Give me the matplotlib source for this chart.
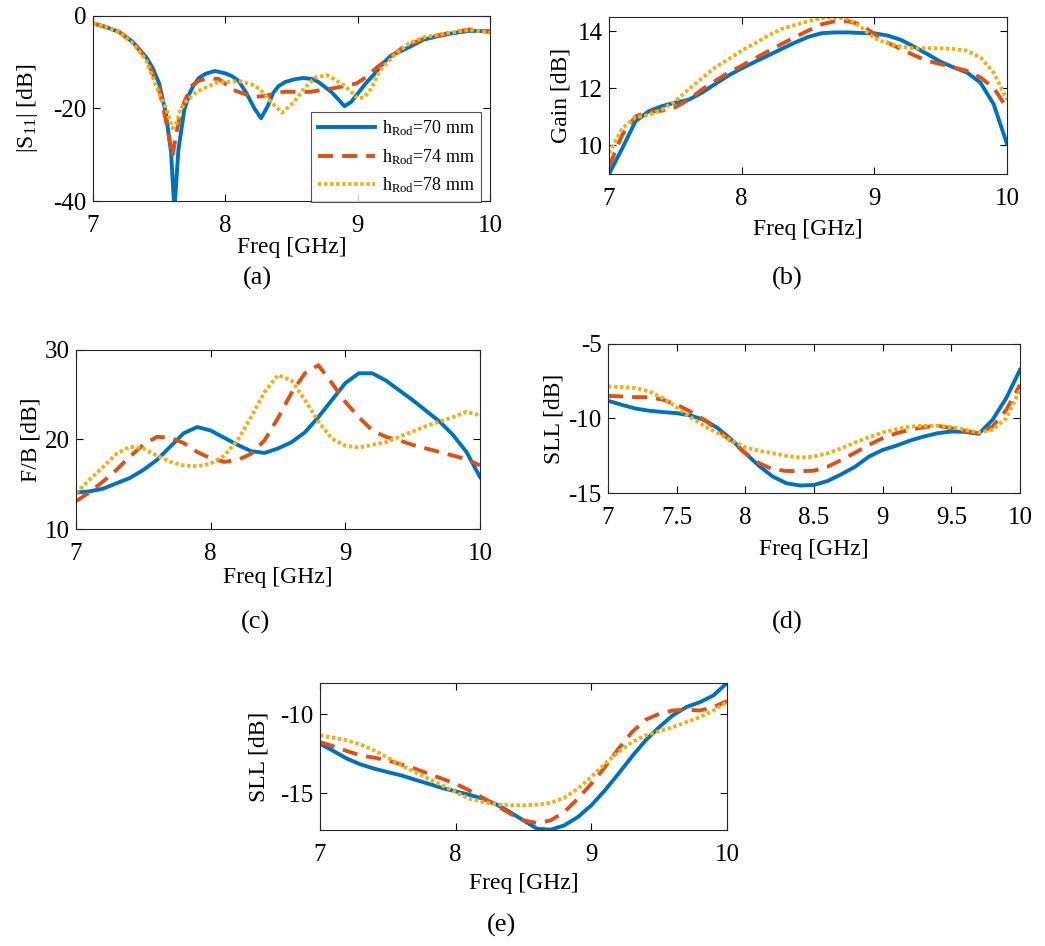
import numpy as np
import matplotlib
matplotlib.use('Agg')
import matplotlib.pyplot as plt

plt.rcParams['font.family'] = 'Liberation Serif'
plt.rcParams['mathtext.fontset'] = 'custom'
plt.rcParams['mathtext.rm'] = 'Liberation Serif'
plt.rcParams['mathtext.it'] = 'Liberation Serif:italic'
plt.rcParams['axes.unicode_minus'] = False

# Colours (MATLAB default order) and labels
colors = ['#0072BD', '#D95319', '#EDB120']
labels = ['h$_{\\mathrm{Rod}}$=70 mm', 'h$_{\\mathrm{Rod}}$=74 mm', 'h$_{\\mathrm{Rod}}$=78 mm']
styles = ['-', (0, (3.9, 2.3)), (0, (0.9, 0.65))]

# (a) |S11| - separate frequency points per curve (sharp dips)
f_s11_70 = [7.0, 7.1, 7.2, 7.3, 7.4, 7.45, 7.5, 7.55, 7.59, 7.615, 7.645, 7.69, 7.73, 7.76, 7.8,
            7.85, 7.92, 8.0, 8.05, 8.1, 8.16, 8.22, 8.27, 8.32, 8.36, 8.4, 8.45, 8.52, 8.59, 8.65,
            8.7, 8.8, 8.85, 8.9, 8.95, 9.0, 9.06, 9.12, 9.2, 9.25, 9.37, 9.5, 9.6, 9.7, 9.85, 10.0]
s11_70 = [-1.6, -2.4, -3.5, -5.6, -8.8, -11.2, -14.6, -21.0, -29.5, -42.0, -29.0, -20.3, -16.7, -15.0, -13.4,
          -12.5, -11.9, -12.4, -13.0, -14.0, -16.7, -20.0, -22.1, -19.5, -16.7, -15.2, -14.3, -13.7, -13.4, -13.6,
          -14.2, -16.4, -17.9, -19.5, -18.6, -16.8, -14.6, -12.75, -10.0, -8.6, -7.0, -5.1, -4.4, -3.8, -3.2, -3.3]
f_s11_74 = [7.0, 7.1, 7.2, 7.3, 7.4, 7.5, 7.57, 7.6, 7.63, 7.66, 7.695, 7.75, 7.8, 7.86, 7.95,
            8.06, 8.21, 8.3, 8.44, 8.64, 8.84, 8.99, 9.07, 9.15, 9.22, 9.34, 9.5, 9.7, 9.85, 10.0]
s11_74 = [-1.6, -2.4, -3.5, -5.7, -9.0, -15.7, -25.3, -30.4, -25.3, -21.0, -18.2, -15.0, -14.0, -13.5, -13.6,
          -16.0, -17.5, -17.3, -16.4, -16.4, -15.5, -14.6, -13.1, -11.0, -9.5, -6.8, -4.9, -3.6, -2.9, -3.45]
f_s11_78 = [7.0, 7.1, 7.2, 7.3, 7.4, 7.5, 7.557, 7.6, 7.63, 7.66, 7.7, 7.78, 7.935, 8.11,
            8.2, 8.26, 8.36, 8.43, 8.52, 8.6, 8.68, 8.77, 8.9, 9.0, 9.05, 9.1, 9.17, 9.29,
            9.39, 9.5, 9.7, 9.85, 10.0]
s11_78 = [-1.6, -2.4, -3.6, -5.9, -9.5, -16.8, -20.3, -24.3, -23.2, -20.3, -18.6, -16.4, -14.4, -14.1,
          -14.8, -15.8, -19.0, -20.9, -18.6, -15.5, -13.3, -12.8, -15.0, -17.8, -17.6, -15.8, -11.7, -8.1,
          -5.9, -4.6, -3.6, -3.0, -3.6]

# (b)-(e) share a 0.1 GHz grid
freq = np.round(np.arange(7.0, 10.001, 0.1), 1)

gain_70 = [9.0, 9.9, 10.85, 11.2, 11.38, 11.5, 11.6, 11.85, 12.15, 12.45, 12.7, 12.93, 13.15, 13.38,
           13.6, 13.8, 13.93, 13.96, 13.96, 13.94, 13.93, 13.85, 13.7, 13.46, 13.2, 12.93, 12.73,
           12.55, 12.2, 11.44, 10.05]
gain_74 = [9.26, 10.38, 11.02, 11.18, 11.22, 11.34, 11.6, 11.96, 12.26, 12.55, 12.79, 13.05, 13.3, 13.55,
           13.79, 14.02, 14.24, 14.35, 14.35, 14.24, 13.9, 13.6, 13.38, 13.16, 12.96, 12.85, 12.73,
           12.61, 12.38, 12.02, 11.3]
gain_78 = [9.73, 10.6, 10.99, 11.06, 11.26, 11.55, 11.96, 12.35, 12.73, 13.02, 13.32, 13.58, 13.85, 14.08,
           14.22, 14.35, 14.46, 14.49, 14.44, 14.14, 13.76, 13.58, 13.46, 13.4, 13.41, 13.4, 13.38,
           13.32, 13.08, 12.55, 11.6]

fb_70 = [14.07, 14.2, 14.5, 15.1, 15.7, 16.6, 17.7, 19.2, 20.7, 21.4, 21.0, 20.2, 19.4, 18.7,
         18.5, 19.0, 19.7, 20.8, 22.5, 24.4, 26.3, 27.4, 27.4, 26.6, 25.5, 24.4, 23.2, 22.0, 20.5,
         18.6, 15.8]
fb_74 = [13.1, 14.1, 15.3, 16.6, 18.1, 19.4, 20.3, 20.2, 19.6, 18.6, 17.9, 17.5, 17.7, 18.4,
         19.9, 22.4, 25.2, 27.4, 28.3, 26.3, 24.2, 22.5, 21.0, 20.3, 19.9, 19.4, 19.0, 18.6, 18.2,
         17.8, 17.1]
fb_78 = [14.0, 15.5, 16.9, 18.4, 19.2, 19.0, 18.2, 17.5, 17.1, 17.0, 17.3, 18.2, 19.9, 22.5,
         25.3, 27.2, 26.6, 24.4, 22.0, 20.1, 19.3, 19.1, 19.4, 19.7, 20.3, 20.9, 21.5, 22.0, 22.5,
         23.1, 22.7]

slld_70 = [-8.81, -9.08, -9.33, -9.48, -9.57, -9.64, -9.8, -10.09, -10.65, -11.43, -12.33, -13.18,
           -13.9, -14.35, -14.5, -14.46, -14.19, -13.74, -13.23, -12.56, -12.11, -11.82, -11.48,
           -11.21, -10.99, -10.87, -10.9, -11.03, -10.09, -8.63, -6.73]
slld_74 = [-8.48, -8.52, -8.57, -8.57, -8.74, -9.08, -9.53, -10.09, -10.76, -11.55, -12.33, -13.0,
           -13.41, -13.52, -13.54, -13.5, -13.23, -12.78, -12.29, -11.77, -11.32, -10.99, -10.76,
           -10.58, -10.49, -10.65, -10.83, -10.99, -10.54, -9.42, -7.74]
slld_78 = [-7.85, -7.89, -7.96, -8.18, -8.63, -9.24, -9.91, -10.49, -10.99, -11.48, -11.93, -12.17,
           -12.33, -12.51, -12.62, -12.56, -12.33, -12.0, -11.61, -11.25, -10.94, -10.72, -10.54,
           -10.49, -10.49, -10.58, -10.76, -10.94, -10.76, -9.98, -8.07]

slle_70 = [-11.86, -12.33, -12.82, -13.18, -13.45, -13.67, -13.88, -14.15, -14.41, -14.68, -14.89,
           -15.11, -15.36, -15.72, -16.21, -16.74, -17.27, -17.33, -17.06, -16.53, -15.78, -14.83,
           -13.77, -12.67, -11.65, -10.81, -10.06, -9.53, -9.22, -8.79, -8.0]
slle_74 = [-11.76, -12.03, -12.33, -12.61, -12.75, -12.92, -13.18, -13.45, -13.77, -14.09, -14.41,
           -14.83, -15.3, -15.78, -16.31, -16.74, -16.91, -16.74, -16.21, -15.36, -14.41, -13.35,
           -12.18, -11.12, -10.34, -9.96, -9.75, -9.7, -9.75, -9.53, -9.15]
slle_78 = [-11.33, -11.48, -11.65, -11.91, -12.29, -12.75, -13.24, -13.67, -14.09, -14.51, -14.94,
           -15.36, -15.57, -15.72, -15.78, -15.78, -15.74, -15.63, -15.3, -14.72, -13.98, -13.14,
           -12.39, -11.76, -11.33, -11.06, -10.81, -10.49, -10.17, -9.75, -9.22]

W, H = 1045, 946
fig = plt.figure(figsize=(W / 100, H / 100), dpi=100)


def add_ax(left, top, right, bottom):
    ax = fig.add_axes([left / W, 1 - bottom / H, (right - left) / W, (bottom - top) / H])
    ax.tick_params(direction='in', top=True, right=True, labelsize=18, length=5, width=0.8)
    ax.tick_params(axis='x', pad=10)
    ax.tick_params(axis='y', pad=4.5)
    ax._box = (left, top, right, bottom)
    for s in ax.spines.values():
        s.set_linewidth(0.8)
        s.set_color('#262626')
    return ax


def draw(ax, xs, ys):
    for x, y, c, ls, lab in zip(xs, ys, colors, styles, labels):
        ax.plot(x, y, color=c, linestyle=ls, linewidth=2.8, label=lab,
                dash_capstyle='butt', solid_joinstyle='round')
    ax.set_xlim(7, 10)


def set_labels(ax, ylabel, xl_y, yl_x):
    # place axis label centres at given pixel positions
    left, top, right, bottom = ax._box
    ax.set_xlabel('Freq [GHz]', fontsize=17)
    ax.set_ylabel(ylabel, fontsize=17)
    ax.xaxis.set_label_coords(0.5, (bottom - xl_y) / (bottom - top))
    ax.yaxis.set_label_coords((yl_x - left) / (right - left), 0.5)
    ax.xaxis.label.set_va('center')
    ax.yaxis.label.set_va('center')


# (a)
ax = add_ax(93, 16, 490, 201)
draw(ax, [f_s11_70, f_s11_74, f_s11_78], [s11_70, s11_74, s11_78])
ax.set_ylim(-40, 0)
ax.set_yticks([-40, -20, 0])
ax.set_xticks([7, 8, 9, 10])
set_labels(ax, '|S$_{11}$| [dB]', 248, 28)
leg = ax.legend(loc='upper right', bbox_to_anchor=((481 - 93) / 397, (201 - 112) / 185),
                borderaxespad=0, fontsize=13, handlelength=3.2, frameon=True, fancybox=False,
                edgecolor='#262626', labelspacing=0.5, borderpad=0.35, handletextpad=0.35)
leg.get_frame().set_linewidth(0.8)
fig.text(257 / W, 1 - 278 / H, '(a)', ha='center', va='center', fontsize=19)

# (b)
ax = add_ax(609, 17, 1007, 174)
draw(ax, [freq] * 3, [gain_70, gain_74, gain_78])
ax.set_ylim(9, 14.5)
ax.set_yticks([10, 12, 14])
ax.set_xticks([7, 8, 9, 10])
set_labels(ax, 'Gain [dB]', 230, 561)
fig.text(787 / W, 1 - 278 / H, '(b)', ha='center', va='center', fontsize=19)

# (c)
ax = add_ax(76, 350, 480, 529)
draw(ax, [freq] * 3, [fb_70, fb_74, fb_78])
ax.set_ylim(10, 30)
ax.set_yticks([10, 20, 30])
ax.set_xticks([7, 8, 9, 10])
set_labels(ax, 'F/B [dB]', 577, 31)
fig.text(255 / W, 1 - 622 / H, '(c)', ha='center', va='center', fontsize=19)

# (d)
ax = add_ax(608, 344, 1020, 493)
draw(ax, [freq] * 3, [slld_70, slld_74, slld_78])
ax.set_ylim(-15, -5)
ax.set_yticks([-15, -10, -5])
ax.set_xticks([7, 7.5, 8, 8.5, 9, 9.5, 10])
ax.set_xticklabels(['7', '7.5', '8', '8.5', '9', '9.5', '10'])
set_labels(ax, 'SLL [dB]', 550, 554)
fig.text(787 / W, 1 - 622 / H, '(d)', ha='center', va='center', fontsize=19)

# (e)
ax = add_ax(320, 683, 727, 830)
draw(ax, [freq] * 3, [slle_70, slle_74, slle_78])
ax.set_ylim(-17.35, -8.0)
ax.set_yticks([-15, -10])
ax.set_xticks([7, 8, 9, 10])
set_labels(ax, 'SLL [dB]', 883, 259)
fig.text(502 / W, 1 - 925 / H, '(e)', ha='center', va='center', fontsize=19)

fig.savefig('out.png', dpi=100)
